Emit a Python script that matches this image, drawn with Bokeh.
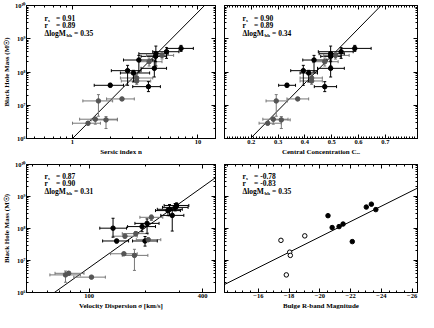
import numpy as np
from bokeh.plotting import figure
from bokeh.layouts import gridplot
from bokeh.models import (ColumnDataSource, Range1d, FixedTicker, LogAxis, LinearAxis,
                          Label, CustomJSTickFormatter, BasicTickFormatter)
from bokeh.embed import file_html
from bokeh.resources import INLINE

# ---------------- data ----------------
# Panel 1: Sersic index n
sersic_n   = [7.33, 5.62, 5.17, 4.62, 4.60, 4.08, 3.38, 4.49, 2.75, 3.06, 3.25, 3.25, 2.00, 4.03, 2.48, 1.61, 1.52, 1.85, 1.33]
sersic_lo  = [5.62, 4.36, 3.89, 3.38, 3.52, 3.38, 2.55, 3.52, 2.04, 2.41, 2.41, 2.45, 1.49, 3.02, 1.87, 1.21, 1.14, 1.41, 1.00]
sersic_hi  = [9.19, 7.05, 6.40, 5.78, 5.62, 5.17, 4.36, 5.62, 3.52, 4.12, 4.36, 4.20, 2.55, 5.02, 3.11, 2.09, 2.28, 2.28, 1.67]
log_mbh    = [8.71, 8.61, 8.50, 8.55, 8.47, 8.31, 8.36, 8.11, 8.04, 7.97, 7.82, 7.73, 7.60, 7.56, 7.19, 7.13, 6.58, 6.56, 6.46]
log_mbh_lo = [8.62, 8.41, 8.39, 8.18, 8.31, 8.18, 8.00, 7.85, 7.60, 7.70, 7.72, 7.63, 7.55, 7.41, 7.15, 6.67, 6.43, 6.30, 6.41]
log_mbh_hi = [8.80, 8.73, 8.59, 8.78, 8.59, 8.42, 8.50, 8.36, 8.20, 8.05, 7.92, 7.82, 7.66, 7.71, 7.23, 7.32, 6.64, 6.66, 6.51]
sample_filled = [1, 1, 0, 1, 1, 0, 1, 1, 1, 1, 0, 0, 1, 1, 0, 0, 0, 0, 0]

# Panel 2: central concentration C_re
conc    = [0.586, 0.535, 0.514, 0.496, 0.496, 0.474, 0.434, 0.496, 0.394, 0.414, 0.425, 0.425, 0.333, 0.474, 0.373, 0.293, 0.282, 0.312, 0.261]
conc_lo = [0.535, 0.450, 0.470, 0.453, 0.459, 0.429, 0.392, 0.447, 0.347, 0.382, 0.382, 0.382, 0.302, 0.435, 0.333, 0.255, 0.243, 0.286, 0.229]
conc_hi = [0.647, 0.580, 0.565, 0.547, 0.535, 0.524, 0.482, 0.547, 0.447, 0.447, 0.465, 0.465, 0.365, 0.518, 0.414, 0.335, 0.337, 0.345, 0.312]

# Panel 3: velocity dispersion sigma [km/s]
sigma       = [291, 286, 267, 262, 276, 214, 203, 191, 134, 177, 155, 140, 198, 206, 153, 174, 103, 75, 78]
sigma_lo    = [250, 245, 230, 225, 240, 186, 175, 160, 114, 150, 133, 118, 170, 178, 130, 150, 83, 62, 66]
sigma_hi    = [338, 335, 312, 305, 318, 246, 235, 225, 158, 205, 180, 162, 230, 240, 180, 205, 122, 90, 94]
sig_mbh     = [8.72, 8.66, 8.60, 8.56, 8.41, 8.35, 8.16, 8.06, 8.01, 7.84, 7.76, 7.61, 7.61, 7.65, 7.21, 7.16, 6.48, 6.55, 6.60]
sig_mbh_lo  = [8.63, 8.55, 8.40, 8.40, 7.92, 8.25, 7.85, 7.90, 7.73, 7.78, 7.70, 7.55, 7.45, 7.60, 7.17, 6.69, 6.44, 6.32, 6.55]
sig_mbh_hi  = [8.80, 8.78, 8.75, 8.62, 8.60, 8.42, 8.30, 8.15, 8.32, 7.90, 7.80, 7.66, 7.75, 7.70, 7.25, 7.35, 6.52, 6.67, 6.66]
sig_filled  = [1, 1, 1, 1, 1, 0, 1, 1, 1, 0, 0, 1, 1, 0, 0, 0, 0, 0, 0]

# Panel 4: bulge R-band magnitude
mag_filled = [-20.53, -20.80, -21.25, -21.51, -22.11, -23.02, -23.35, -23.64]
mbh_filled = [8.40, 8.03, 8.06, 8.14, 7.59, 8.67, 8.76, 8.59]
mag_open   = [-17.47, -18.04, -18.08, -17.82, -19.02]
mbh_open   = [7.63, 7.26, 7.16, 6.55, 7.77]

# statistics shown in each panel
stat_rs   = [0.91, 0.90, 0.87, -0.78]
stat_r    = [0.89, 0.89, 0.90, -0.83]
stat_dlog = [0.35, 0.34, 0.31, 0.35]

# fitted relations: log M = a + b * X   (X = log n, C_re, log sigma, magnitude)
fit_sersic = (6.00, 3.80)
fit_conc   = (6.00 - 8.21 * 0.197, 8.21)
fit_sigma  = (6.10 - 4.20 * 1.84, 4.20)
fit_mag    = (6.25 - 0.24 * 13.8, -0.24)

# tick labels / axis texts
ylabel = "Black Hole Mass (M\u2609)"
xlabels = ["Sersic index n", "Central Concentration C\u1d63\u2091",
           "Velocity Dispersion \u03c3 [km/s]", "Bulge R-band Magnitude"]

# ---------------- style ----------------
FONT = "Liberation Serif"
BLACK = "#000000"
GRAY_PT = "#555555"
GRAY_BAR = "#777777"

SUP_JS = """
const sup = {"0":"\u2070","1":"\u00b9","2":"\u00b2","3":"\u00b3","4":"\u2074","5":"\u2075","6":"\u2076","7":"\u2077","8":"\u2078","9":"\u2079"};
const e = Math.round(Math.log10(tick));
return "10" + String(e).split("").map(c => sup[c]).join("");
"""
EMPTY_JS = "return '';"

Y_MAJOR = [1e6, 1e7, 1e8, 1e9, 1e10]
Y_MINOR = [k * 10.0 ** e for e in range(6, 10) for k in range(2, 10)]


def style_axis(ax, show_labels):
    ax.major_tick_in = 4
    ax.major_tick_out = 0
    ax.minor_tick_in = 2
    ax.minor_tick_out = 0
    ax.axis_line_color = "black"
    ax.major_tick_line_color = "black"
    ax.minor_tick_line_color = "black"
    ax.major_label_text_font = FONT
    ax.major_label_text_font_style = "bold"
    ax.major_label_text_color = "black"
    ax.axis_label_text_font = FONT
    ax.axis_label_text_font_style = "bold"
    ax.axis_label_text_font_size = "7px"
    ax.axis_label_text_color = "black"
    if show_labels:
        ax.major_label_text_font_size = "6.5px"
        ax.major_label_standoff = 1
        ax.axis_label_standoff = 1
    else:
        ax.major_label_text_font_size = "0px"
        ax.major_label_standoff = 0
        ax.axis_label_standoff = 0
        ax.formatter = CustomJSTickFormatter(code=EMPTY_JS)


def make_fig(width, height, borders, x_range, x_log, xticks, xminor, xlabel, left_labels):
    L, R, T, B = borders
    p = figure(width=width, height=height, x_range=x_range, y_range=Range1d(1e6, 1e10),
               x_axis_type="log" if x_log else "linear", y_axis_type="log",
               output_backend="svg", toolbar_location=None,
               min_border_left=L, min_border_right=R, min_border_top=T, min_border_bottom=B)
    p.grid.visible = False
    p.outline_line_color = "black"
    p.background_fill_color = "white"
    p.border_fill_color = "white"
    xt = FixedTicker(ticks=xticks, minor_ticks=xminor)
    yt = FixedTicker(ticks=Y_MAJOR, minor_ticks=Y_MINOR)

    xa = p.xaxis[0]
    xa.ticker = xt
    style_axis(xa, True)
    xa.formatter = BasicTickFormatter()
    xa.axis_label = xlabel

    ya = p.yaxis[0]
    ya.ticker = yt
    style_axis(ya, left_labels)
    if left_labels:
        ya.formatter = CustomJSTickFormatter(code=SUP_JS)
        ya.axis_label = ylabel

    ra = LogAxis(ticker=yt)
    style_axis(ra, False)
    p.add_layout(ra, "right")
    ta = LogAxis(ticker=xt) if x_log else LinearAxis(ticker=xt)
    style_axis(ta, False)
    p.add_layout(ta, "above")
    return p


def add_errorbars(p, x, xlo, xhi, logy, logylo, logyhi, filled):
    src = ColumnDataSource(dict(
        x=x, xlo=xlo, xhi=xhi,
        y=[10 ** v for v in logy], ylo=[10 ** v for v in logylo], yhi=[10 ** v for v in logyhi],
        pt=[BLACK if f else GRAY_PT for f in filled],
        bar=[BLACK if f else GRAY_BAR for f in filled]))
    p.segment(x0="xlo", y0="y", x1="xhi", y1="y", line_color="bar", line_width=1, source=src)
    p.segment(x0="x", y0="ylo", x1="x", y1="yhi", line_color="bar", line_width=1, source=src)
    for cx in ("xlo", "xhi"):
        p.scatter(x=cx, y="y", marker="dash", angle=np.pi / 2, size=3,
                  line_color="bar", line_width=1, source=src)
    for cy in ("ylo", "yhi"):
        p.scatter(x="x", y=cy, marker="dash", size=3,
                  line_color="bar", line_width=1, source=src)
    p.scatter(x="x", y="y", marker="circle", size=4.5, fill_color="pt", line_color="pt", source=src)


def add_fit(p, xr, fit, x_log):
    a, b = fit
    xs = np.array([xr.start, xr.end], dtype=float)
    xv = np.log10(xs) if x_log else xs
    ys = 10 ** (a + b * xv)
    p.line(xs, ys, line_color="black", line_width=1)


def add_stats(p, frame_h, i):
    x0 = 18
    fs, ss = "7.5px", "5px"
    kw = dict(x_units="screen", y_units="screen", text_font=FONT, text_font_style="bold",
              text_color="black", text_baseline="alphabetic")
    y1, y2, y3 = frame_h - 12.5, frame_h - 20, frame_h - 27.5
    p.add_layout(Label(x=x0, y=y1, text="r", text_font_size=fs, **kw))
    p.add_layout(Label(x=x0 + 3.6, y=y1 - 2, text="s", text_font_size=ss, **kw))
    p.add_layout(Label(x=x0 + 11.5, y=y1, text="= %.2f" % stat_rs[i], text_font_size=fs, **kw))
    p.add_layout(Label(x=x0, y=y2, text="r", text_font_size=fs, **kw))
    p.add_layout(Label(x=x0 + 11.5, y=y2, text="= %.2f" % stat_r[i], text_font_size=fs, **kw))
    p.add_layout(Label(x=x0, y=y3, text="\u0394logM", text_font_size=fs, **kw))
    p.add_layout(Label(x=x0 + 22, y=y3 - 2, text="bh", text_font_size=ss, **kw))
    p.add_layout(Label(x=x0 + 29.5, y=y3, text="= %.2f" % stat_dlog[i], text_font_size=fs, **kw))


# ---------------- layout ----------------
FW = 193
H_TOP, H_BOT = 133, 129
B_L = (22, 4)   # left column: left, right borders
B_R = (5, 1)    # right column
T_TOP, BOT_TOP = 5, 22
T_BOT, BOT_BOT = 4, 19

W_L = B_L[0] + FW + B_L[1]
W_R = B_R[0] + FW + B_R[1]
HT = T_TOP + H_TOP + BOT_TOP
HB = T_BOT + H_BOT + BOT_BOT

# Panel 1
xr1 = Range1d(0.43, 13.8)
p1 = make_fig(W_L, HT, (B_L[0], B_L[1], T_TOP, BOT_TOP), xr1, True, [1, 10],
              [0.5, 0.6, 0.7, 0.8, 0.9] + list(range(2, 10)), xlabels[0], True)
add_fit(p1, xr1, fit_sersic, True)
add_errorbars(p1, sersic_n, sersic_lo, sersic_hi, log_mbh, log_mbh_lo, log_mbh_hi, sample_filled)
add_stats(p1, H_TOP, 0)

# Panel 2
xr2 = Range1d(0.1, 0.82)
p2 = make_fig(W_R, HT, (B_R[0], B_R[1], T_TOP, BOT_TOP), xr2, False,
              [0.2, 0.3, 0.4, 0.5, 0.6, 0.7],
              [round(0.1 + 0.01 * k, 2) for k in range(0, 73)], xlabels[1], False)
add_fit(p2, xr2, fit_conc, False)
add_errorbars(p2, conc, conc_lo, conc_hi, log_mbh, log_mbh_lo, log_mbh_hi, sample_filled)
add_stats(p2, H_TOP, 1)

# Panel 3
xr3 = Range1d(46.6, 468)
p3 = make_fig(W_L, HB, (B_L[0], B_L[1], T_BOT, BOT_BOT), xr3, True, [100, 400],
              [50, 60, 70, 80, 90, 200, 300], xlabels[2], True)
add_fit(p3, xr3, fit_sigma, True)
add_errorbars(p3, sigma, sigma_lo, sigma_hi, sig_mbh, sig_mbh_lo, sig_mbh_hi, sig_filled)
add_stats(p3, H_BOT, 2)

# Panel 4
xr4 = Range1d(-13.8, -26.35)
p4 = make_fig(W_R, HB, (B_R[0], B_R[1], T_BOT, BOT_BOT), xr4, False,
              [-16, -18, -20, -22, -24, -26],
              [-14 - 0.5 * k for k in range(0, 26)], xlabels[3], False)
add_fit(p4, xr4, fit_mag, False)
p4.scatter(x=mag_filled, y=[10 ** v for v in mbh_filled], marker="circle", size=4.5,
           fill_color="black", line_color="black")
p4.scatter(x=mag_open, y=[10 ** v for v in mbh_open], marker="circle", size=4.5,
           fill_color="white", line_color="black", line_width=1)
add_stats(p4, H_BOT, 3)

layout = gridplot([[p1, p2], [p3, p4]], toolbar_location=None)

open("out.html", "w").write(file_html(layout, INLINE))
